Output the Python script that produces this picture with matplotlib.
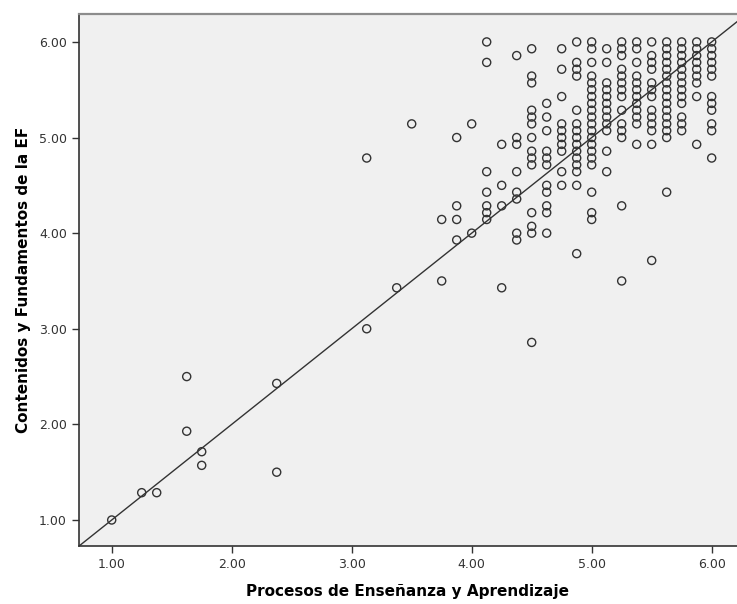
import numpy as np
import matplotlib
matplotlib.use("Agg")
import matplotlib.pyplot as plt

# Procesos de Enseñanza y Aprendizaje (x levels, steps of 1/8)
proc = [1.0, 1.25, 1.375, 1.625, 1.75, 2.375, 3.125, 3.375, 3.5, 3.75,
        3.875, 4.0, 4.125, 4.25, 4.375, 4.5, 4.625, 4.75, 4.875, 5.0,
        5.125, 5.25, 5.375, 5.5, 5.625, 5.75, 5.875, 6.0]

# Contenidos y Fundamentos de la EF, read in fourteenths for each x level
cont14 = [
    [14],
    [18],
    [18],
    [35, 27],
    [24, 22],
    [34, 21],
    [67, 42],
    [48],
    [72],
    [58, 49],
    [70, 60, 58, 55],
    [72, 56],
    [84, 81, 65, 62, 60, 59, 58],
    [69, 63, 60, 48],
    [82, 70, 69, 65, 62, 61, 56, 55],
    [83, 79, 78, 74, 73, 72, 70, 68, 67, 66, 59, 57, 56, 40],
    [75, 73, 71, 68, 67, 66, 63, 62, 60, 59, 56],
    [83, 80, 76, 72, 71, 70, 69, 68, 65, 63],
    [84, 81, 80, 79, 74, 72, 71, 70, 69, 68, 67, 66, 65, 63, 53],
    [84, 83, 81, 79, 78, 77, 76, 75, 74, 73, 72, 71, 70, 69, 68, 67, 66, 62, 59, 58],
    [83, 81, 78, 77, 76, 75, 74, 73, 72, 71, 68, 65],
    [84, 83, 82, 80, 79, 78, 77, 76, 74, 72, 71, 70, 60, 49],
    [84, 83, 81, 79, 78, 77, 76, 75, 74, 73, 72, 69],
    [84, 82, 81, 80, 78, 77, 76, 74, 73, 72, 71, 69, 52],
    [84, 83, 82, 81, 80, 79, 78, 77, 76, 75, 74, 73, 72, 71, 70, 62],
    [84, 83, 82, 81, 80, 79, 78, 77, 76, 75, 73, 72, 71],
    [84, 83, 82, 81, 80, 79, 78, 76, 69],
    [84, 83, 82, 81, 80, 79, 76, 75, 74, 72, 71, 67],
]

ticks = [1, 2, 3, 4, 5, 6]
tick_labels = ['1.00', '2.00', '3.00', '4.00', '5.00', '6.00']

x = []
y = []
for xv, ks in zip(proc, cont14):
    for k in ks:
        x.append(xv)
        y.append(k / 14.0)

fig = plt.figure(figsize=(7.37, 6.04), dpi=100)
ax = fig.add_axes([0.1068, 0.0965, 0.8932, 0.880])
ax.set_facecolor('#f0f0f0')

ax.scatter(x, y, s=34, facecolors='none', edgecolors='#333333', linewidths=1.0, zorder=3)
ax.axline((1, 1), slope=1.0, color='#333333', linewidth=1.0, zorder=2)

ax.set_xlim(0.725, 6.211)
ax.set_ylim(0.731, 6.29)
ax.set_xticks(ticks)
ax.set_xticklabels(tick_labels)
ax.set_yticks(ticks)
ax.set_yticklabels(tick_labels)
ax.tick_params(labelsize=9, colors='#333333', length=5, width=1, direction='out')

ax.spines['right'].set_visible(False)
ax.spines['top'].set_color('#8c8c8c')
ax.spines['top'].set_linewidth(1.6)
ax.spines['left'].set_color('#333333')
ax.spines['bottom'].set_color('#333333')
ax.spines['left'].set_linewidth(1.2)
ax.spines['bottom'].set_linewidth(1.2)

ax.set_xlabel('Procesos de Enseñanza y Aprendizaje', fontsize=11, fontweight='bold', labelpad=10)
ax.set_ylabel('Contenidos y Fundamentos de la EF', fontsize=11, fontweight='bold', labelpad=10)
ax.yaxis.set_label_coords(-0.073, 0.5)

plt.savefig('out.png', dpi=100)
